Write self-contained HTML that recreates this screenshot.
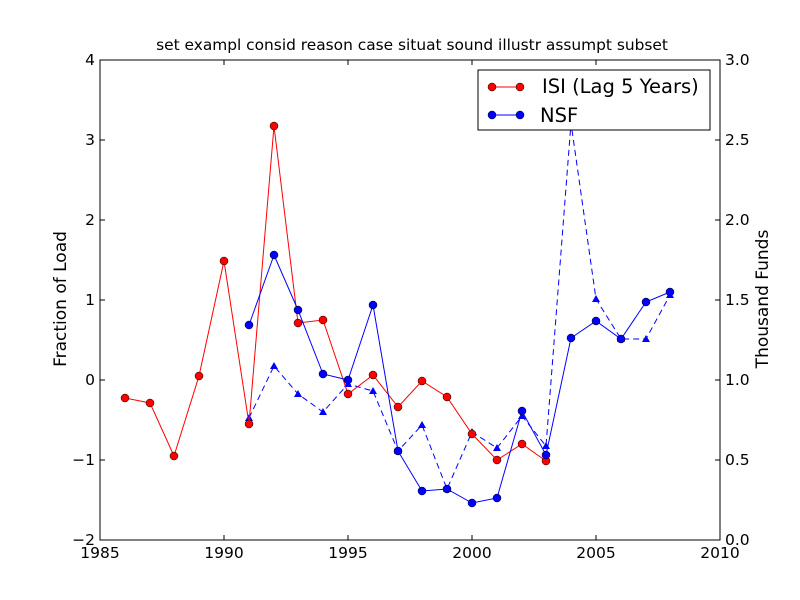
<!DOCTYPE html>
<html><head><meta charset="utf-8"><style>body{margin:0;background:#fff}svg{display:block}text{font-family:"DejaVu Sans","Liberation Sans",sans-serif}</style></head>
<body>
<svg width="800" height="600" xmlns="http://www.w3.org/2000/svg">
<rect width="800" height="600" fill="#fff"/>
<text x="412" y="50" font-size="15.4" text-anchor="middle">set exampl consid reason case situat sound illustr assumpt subset</text>
<g stroke="#000" stroke-width="1">
<path d="M100 60h5M100 140h5M100 220h5M100 300h5M100 380h5M100 460h5M100 540h5"/>
<path d="M720 60h-5M720 140h-5M720 220h-5M720 300h-5M720 380h-5M720 460h-5M720 540h-5"/>
<path d="M224 540v-5M348 540v-5M472 540v-5M596 540v-5M224 60v5M348 60v5M472 60v5M596 60v5"/>
</g>
<rect x="100" y="60" width="620" height="480" fill="none" stroke="#000"/>
<g font-size="15.5" text-anchor="end">
<text x="95" y="65">4</text><text x="95" y="145">3</text><text x="95" y="225">2</text><text x="95" y="305">1</text><text x="95" y="385">0</text><text x="95" y="465">−1</text><text x="95" y="545">−2</text>
</g>
<g font-size="15.5">
<text x="725" y="65">3.0</text><text x="725" y="145">2.5</text><text x="725" y="225">2.0</text><text x="725" y="305">1.5</text><text x="725" y="385">1.0</text><text x="725" y="465">0.5</text><text x="725" y="545">0.0</text>
</g>
<g font-size="15.5" text-anchor="middle">
<text x="100" y="558">1985</text><text x="224" y="558">1990</text><text x="348" y="558">1995</text><text x="472" y="558">2000</text><text x="596" y="558">2005</text><text x="720" y="558">2010</text>
</g>
<text transform="translate(66,299) rotate(-90)" font-size="17" text-anchor="middle">Fraction of Load</text>
<text transform="translate(768,299) rotate(-90)" font-size="17" text-anchor="middle">Thousand Funds</text>
<polyline fill="none" stroke="#0000ff" stroke-dasharray="6,4" points="249,418 274,366 298,394 323,412 348,384 373,391 398,451 422,425 447,489 472,432 497,448 522,416 546,446 571,123 596,299 621,339 646,339 670,295"/>
<g fill="#0000ff">
<path d="M249,414l4,7h-8zM274,362l4,7h-8zM298,390l4,7h-8zM323,408l4,7h-8zM348,380l4,7h-8zM373,387l4,7h-8zM398,447l4,7h-8zM422,421l4,7h-8zM447,485l4,7h-8zM472,428l4,7h-8zM497,444l4,7h-8zM522,412l4,7h-8zM546,442l4,7h-8zM571,119l4,7h-8zM596,295l4,7h-8zM621,335l4,7h-8zM646,335l4,7h-8zM670,291l4,7h-8z"/>
</g>
<polyline fill="none" stroke="#ff0000" points="125,398 150,403 174,456 199,376 224,261 249,424 274,126 298,323 323,320 348,394 373,375 398,407 422,381 447,397 472,434 497,460 522,444 546,461"/>
<g fill="#ff0000" stroke="#000" stroke-width="0.5">
<circle cx="125" cy="398" r="4"/><circle cx="150" cy="403" r="4"/><circle cx="174" cy="456" r="4"/><circle cx="199" cy="376" r="4"/><circle cx="224" cy="261" r="4"/><circle cx="249" cy="424" r="4"/><circle cx="274" cy="126" r="4"/><circle cx="298" cy="323" r="4"/><circle cx="323" cy="320" r="4"/><circle cx="348" cy="394" r="4"/><circle cx="373" cy="375" r="4"/><circle cx="398" cy="407" r="4"/><circle cx="422" cy="381" r="4"/><circle cx="447" cy="397" r="4"/><circle cx="472" cy="434" r="4"/><circle cx="497" cy="460" r="4"/><circle cx="522" cy="444" r="4"/><circle cx="546" cy="461" r="4"/>
</g>
<polyline fill="none" stroke="#0000ff" points="249,325 274,255 298,310 323,374 348,380 373,305 398,451 422,491 447,489 472,503 497,498 522,411 546,455 571,338 596,321 621,339 646,302 670,292"/>
<g fill="#0000ff" stroke="#000" stroke-width="0.5">
<circle cx="249" cy="325" r="4"/><circle cx="274" cy="255" r="4"/><circle cx="298" cy="310" r="4"/><circle cx="323" cy="374" r="4"/><circle cx="348" cy="380" r="4"/><circle cx="373" cy="305" r="4"/><circle cx="398" cy="451" r="4"/><circle cx="422" cy="491" r="4"/><circle cx="447" cy="489" r="4"/><circle cx="472" cy="503" r="4"/><circle cx="497" cy="498" r="4"/><circle cx="522" cy="411" r="4"/><circle cx="546" cy="455" r="4"/><circle cx="571" cy="338" r="4"/><circle cx="596" cy="321" r="4"/><circle cx="621" cy="339" r="4"/><circle cx="646" cy="302" r="4"/><circle cx="670" cy="292" r="4"/>
</g>
<rect x="478" y="70" width="232" height="60" fill="#fff" stroke="#000"/>
<line x1="492" y1="87" x2="520" y2="87" stroke="#ff0000"/>
<circle cx="492" cy="87" r="4" fill="#ff0000" stroke="#000" stroke-width="0.5"/><circle cx="520" cy="87" r="4" fill="#ff0000" stroke="#000" stroke-width="0.5"/>
<text x="542" y="93" font-size="19.5">ISI (Lag 5 Years)</text>
<line x1="492" y1="115" x2="520" y2="115" stroke="#0000ff"/>
<circle cx="492" cy="115" r="4" fill="#0000ff" stroke="#000" stroke-width="0.5"/><circle cx="520" cy="115" r="4" fill="#0000ff" stroke="#000" stroke-width="0.5"/>
<text x="540" y="122" font-size="19.5">NSF</text>
</svg>
</body></html>
